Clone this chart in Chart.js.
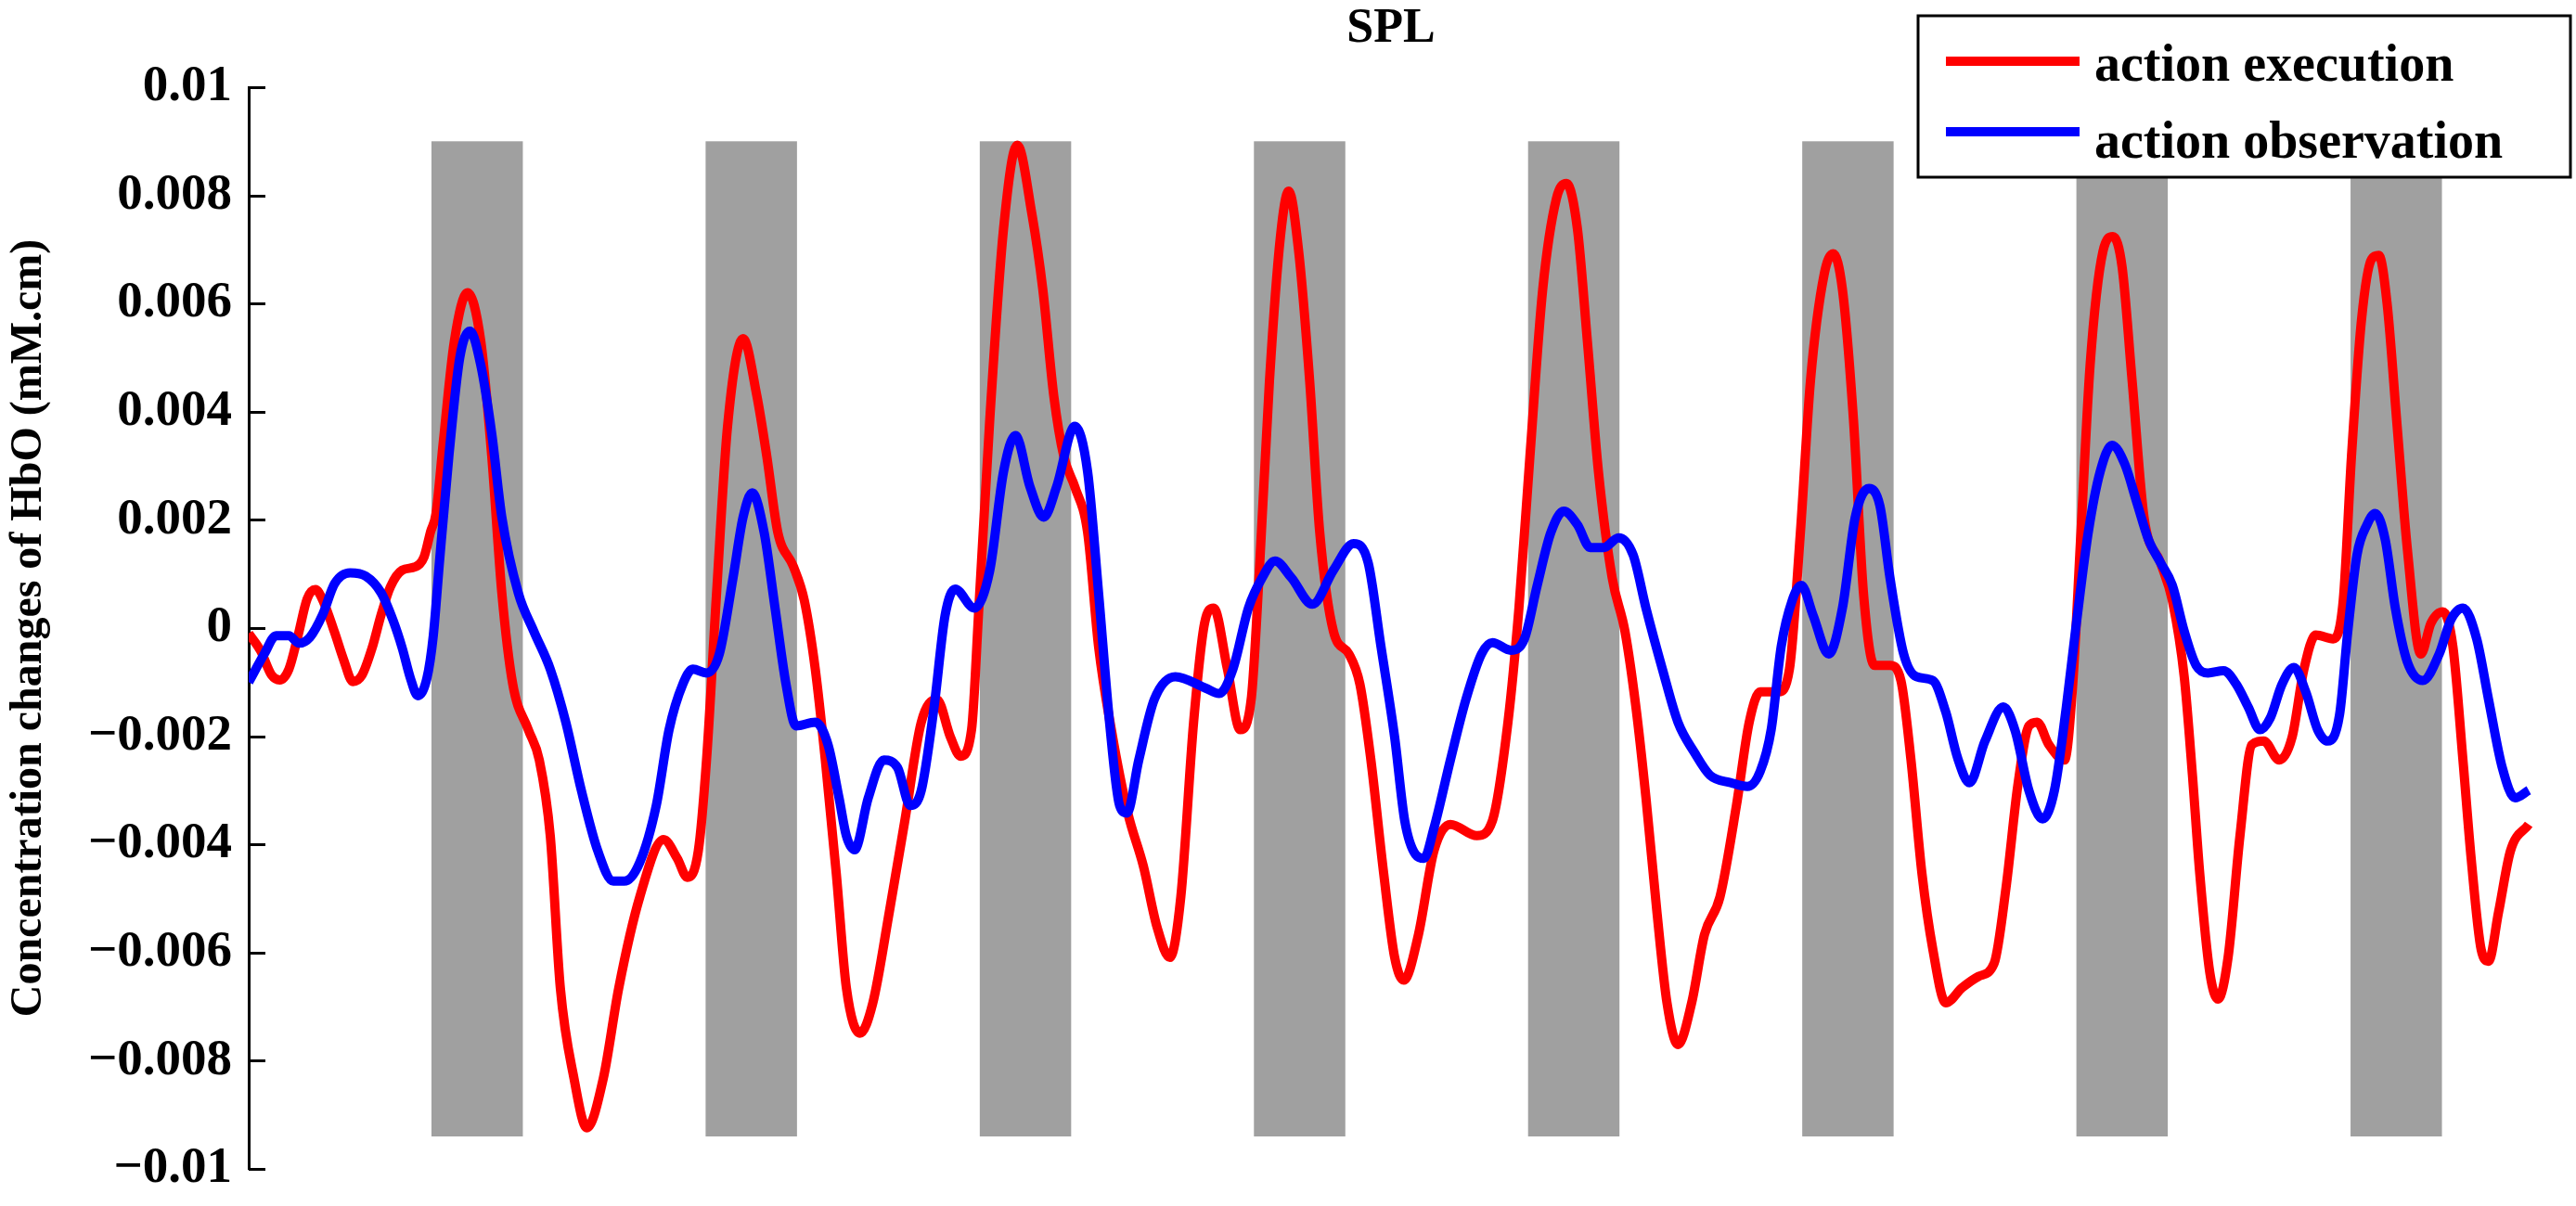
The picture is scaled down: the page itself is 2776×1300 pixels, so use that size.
<!DOCTYPE html>
<html>
<head>
<meta charset="utf-8">
<title>SPL</title>
<script src="https://cdn.jsdelivr.net/npm/chart.js@4.4.1/dist/chart.umd.min.js"></script>
<style>
  html, body { margin: 0; padding: 0; background: #fff; }
  canvas { display: block; }
</style>
</head>
<body>
<canvas id="chart" width="2776" height="1300"></canvas>
<script>
// time in seconds, values in 10^-3 mM.cm
const execTime = [0, 1.3, 2.5, 3.4, 4.4, 5.4, 6.4, 7.3, 8.2, 9.4, 10.4, 11.4, 12.4, 13.5, 14.5, 15.5, 16.8, 18.2, 19.2, 19.9, 20.5,
  21.3, 22.5, 23.95, 25.4, 26.6, 27.7, 28.9, 30.6, 31.8, 33.0, 34.1, 35.6, 37.0, 38.8, 40.5, 42.8, 45.4, 46.9, 48.0, 49.2,
  50.1, 51.2, 52.4, 54.1, 55.6, 56.7, 57.9, 59.6, 60.8, 62.0, 63.1, 64.3, 65.4, 66.9, 68.3, 70.1, 71.8, 73.6, 75.3, 76.8,
  77.9, 79.1, 79.9, 81.1, 82.6, 84.1, 85.7, 86.9, 88.1, 89.2, 90.4, 91.8, 93.0, 94.4, 96.2, 97.9, 99.4, 100.8, 102.0, 103.4,
  104.6, 105.6, 107.1, 108.5, 109.7, 110.6, 111.7, 112.9, 113.8, 114.9, 116.1, 117.2, 118.7, 120.4, 121.6, 122.8, 124.2,
  125.4, 126.4, 128.0, 129.7, 131.5, 134.4, 136.1, 137.8, 139.0, 140.2, 141.6, 143.1, 144.2, 145.4, 146.5, 147.7, 149.2,
  150.6, 151.8, 152.9, 154.1, 155.2, 156.4, 157.9, 159.3, 161.0, 162.8, 164.2, 165.4, 167.4, 168.6, 169.8, 170.9, 172.4,
  173.4, 174.4, 175.6, 176.7, 177.9, 179.6, 180.8, 181.9, 183.1, 184.3, 185.7, 187.5, 189.3, 191.0, 192.3, 193.6, 194.8,
  195.7, 197.0, 198.7, 199.6, 200.5, 201.5, 202.9, 204.0, 205.0, 206.1, 207.4, 209.2, 210.5, 211.8, 212.7, 213.5, 214.6,
  215.5, 216.6, 217.9, 219.2, 220.5, 222.2, 223.6, 224.9, 226.2, 228.1, 229.2, 230.1, 231.2, 232.3, 233.1, 234.0, 235.1,
  236.2, 237.7, 238.8, 240.1, 241.2, 242.3, 243.2, 244.3, 245.1, 246.2, 247.5, 249.5];
const execHbO = [-0.1, -0.42, -0.87, -0.96, -0.76, -0.14, 0.54, 0.71, 0.48, -0.08, -0.59, -0.99, -0.87, -0.37, 0.25, 0.76, 1.07, 1.13, 1.32, 1.78, 2.12,
  3.45, 5.3, 6.2, 5.3, 3.17, 0.65, -1.04, -1.88, -2.44, -3.84, -6.65, -8.33, -9.24, -8.33, -6.65, -4.97, -3.91, -4.26, -4.61, -4.12,
  -2.44, 0.65, 3.73, 5.35, 4.3, 3.17, 1.77, 1.14, 0.51, -0.76, -2.44, -4.54, -6.65, -7.49, -6.93, -5.25, -3.56, -1.74, -1.32, -2.02,
  -2.37, -1.88, 0.37, 3.87, 7.38, 8.93, 7.66, 6.26, 4.29, 3.17, 2.61, 1.77, -0.34, -1.88, -3.42, -4.40, -5.53, -6.09, -4.97, -1.74,
  0.09, 0.37, -0.76, -1.88, -1.32, 1.07, 4.57, 7.24, 8.08, 6.96, 4.57, 1.77, -0.06, -0.48, -1.04, -2.44, -4.54,
  -6.09, -6.51, -5.67, -4.12, -3.63, -3.84, -3.56, -1.74, 0.37, 3.17, 6.26, 7.94, 8.22, 7.38, 5.28, 2.89, 0.93,
  -0.06, -1.46, -3.14, -5.25, -6.93, -7.70, -6.93, -5.67, -4.97, -3.28, -1.74, -1.18, -1.18, -0.76, 1.77, 4.57, 6.54,
  6.92, 6.26, 3.87, 0.65, -0.69, -0.69, -0.97, -2.44, -4.54, -5.95, -6.93, -6.65, -6.44, -6.2, -4.8, -2.9, -1.81,
  -1.74, -2.16, -2.44, -1.04, 1.77, 4.86, 6.96, 7.24, 6.68, 4.57, 2.05, 1.21, 0.51, -0.90, -2.72, -4.54, -6.37,
  -6.86, -6.09, -3.84, -2.16, -2.09, -2.44, -2.02, -0.76, -0.13, -0.20, 0.51, 3.17, 5.70, 6.82, 6.89, 6.0, 3.73,
  1.49, -0.48, 0.09, 0.30, -0.34, -2.44, -4.26, -5.95, -6.16, -5.25, -4.12, -3.63];

const obsTime = [0, 1.7, 3.0, 4.4, 5.5, 6.7, 8.1, 9.4, 11.1, 12.8, 14.5, 15.8, 16.8, 17.7, 18.5, 19.5, 20.2, 20.9, 21.9, 23.1,
  24.2, 25.4, 26.6, 27.7, 29.5, 31.2, 33.0, 34.7, 36.4, 38.2, 39.9, 41.1, 42.8, 44.6, 46.0, 47.5, 48.6, 50.1, 51.5, 53.0,
  54.1, 55.1, 56.4, 57.6, 58.8, 59.9, 62.0, 63.4, 64.6, 65.4, 66.3, 67.8, 69.5, 71.0, 72.4, 73.6, 75.0, 76.2, 77.3, 79.4,
  81.1, 82.6, 83.9, 85.5, 87.0, 88.4, 90.4, 91.8, 93.0, 94.2, 95.3, 96.1, 97.4, 99.1, 101.4, 104.7, 106.2, 107.7, 109.4,
  110.9, 112.3, 114.1, 116.4, 118.7, 120.9, 122.5, 123.9, 125.4, 126.5, 127.7, 128.6, 129.7, 131.5, 133.2, 134.9, 136.1,
  138.1, 139.6, 141.0, 142.5, 143.9, 145.4, 146.8, 148.3, 149.9, 151.5, 152.9, 154.7, 156.4, 158.2, 159.9, 162.2, 164.0,
  165.4, 166.6, 167.7, 168.9, 169.9, 171.2, 172.9, 174.4, 175.8, 177.3, 178.5, 179.6, 181.1, 182.5, 184.3, 185.7, 187.0,
  188.3, 190.0, 192.0, 193.3, 194.8, 196.3, 197.6, 198.9, 200.0, 201.3, 202.6, 203.9, 205.3, 206.6, 207.9, 209.2, 210.5,
  211.8, 213.1, 214.4, 216.1, 217.5, 218.8, 220.1, 221.2, 222.5, 223.8, 225.1, 226.4, 227.5, 228.8, 229.7, 230.7, 231.8,
  232.7, 233.8, 234.9, 236.2, 237.9, 239.7, 241.0, 242.3, 243.8, 245.1, 246.6, 248.0, 249.5];
const obsHbO = [-1.0, -0.48, -0.14, -0.14, -0.28, -0.17, 0.25, 0.82, 1.02, 0.96, 0.65, 0.14, -0.37, -0.93, -1.25, -0.93, -0.14, 1.27, 3.17, 5.0,
  5.49, 4.86, 3.59, 2.05, 0.65, -0.06, -0.76, -1.74, -3.0, -4.12, -4.68, -4.68, -4.33, -3.28, -1.88, -1.04, -0.76, -0.83, -0.48, 0.93,
  2.05, 2.5, 1.77, 0.37, -1.04, -1.81, -1.74, -2.16, -3.14, -3.84, -4.10, -3.14, -2.44, -2.58, -3.28, -3.0, -1.46, 0.23, 0.72, 0.37,
  1.07, 2.89, 3.56, 2.61, 2.05, 2.61, 3.73, 2.89, 0.65, -1.74, -3.28, -3.42, -2.44, -1.32, -0.90, -1.11, -1.21, -0.76, 0.37,
  0.93, 1.24, 0.93, 0.44, 1.07, 1.56, 1.21, -0.34, -2.02, -3.56, -4.19, -4.26, -3.70, -2.44, -1.32, -0.48, -0.27,
  -0.41, -0.20, 0.79, 1.77, 2.16, 1.91, 1.49, 1.49, 1.67, 1.35, 0.37, -0.76, -1.74, -2.30, -2.72, -2.86, -2.93,
  -2.65, -1.88, -0.34, 0.51, 0.79, 0.23, -0.48, 0.37, 2.05, 2.58, 2.26, 0.93, -0.48, -0.90, -0.97, -1.55, -2.4,
  -2.86, -2.09, -1.46, -1.9, -3.0, -3.53, -3.0, -1.46, 0.09, 1.77, 2.89, 3.38, 3.03, 2.33, 1.63, 1.21, 0.79,
  -0.06, -0.69, -0.83, -0.79, -1.04, -1.46, -1.88, -1.67, -1.04, -0.73, -1.18, -1.88, -2.09, -1.60, -0.06, 1.35, 1.91,
  2.12, 1.63, 0.37, -0.62, -0.97, -0.48, 0.16, 0.37, -0.20, -1.32, -2.58, -3.14, -3.0];

// task blocks (grey bars): start times in s, 10 s each
const blockStarts = [20, 50, 80, 110, 140, 170, 200, 230];
const blockLength = 10;
const blockTop = 0.009;
const blockBottom = -0.0094;

const yTickValues = [-0.01, -0.008, -0.006, -0.004, -0.002, 0, 0.002, 0.004, 0.006, 0.008, 0.01];
const yTickLabels = ['\u22120.01', '\u22120.008', '\u22120.006', '\u22120.004', '\u22120.002', '0',
  '0.002', '0.004', '0.006', '0.008', '0.01'];

const seriesNames = ['action execution', 'action observation'];
const seriesColors = ['#ff0000', '#0000ff'];

const SERIF = '"Liberation Serif", "Times New Roman", serif';
const toPoints = (ts, vs) => ts.map((t, i) => ({ x: t, y: vs[i] / 1000 }));

// grey task blocks under the curves
const blocksPlugin = {
  id: 'blocks',
  beforeDatasetsDraw(chart) {
    const { ctx, scales: { x, y } } = chart;
    ctx.save();
    ctx.fillStyle = '#a0a0a0';
    blockStarts.forEach(s => {
      const x0 = x.getPixelForValue(s);
      const x1 = x.getPixelForValue(s + blockLength);
      const y0 = y.getPixelForValue(blockTop);
      const y1 = y.getPixelForValue(blockBottom);
      ctx.fillRect(x0, y0, x1 - x0, y1 - y0);
    });
    ctx.restore();
  }
};

// inward tick marks and the boxed legend, matlab style
const decorPlugin = {
  id: 'decor',
  afterDraw(chart) {
    const { ctx, scales: { y } } = chart;
    ctx.save();
    ctx.strokeStyle = '#000';
    ctx.lineWidth = 3;
    y.ticks.forEach(t => {
      const py = Math.round(y.getPixelForValue(t.value)) + 0.5;
      ctx.beginPath();
      ctx.moveTo(y.right, py);
      ctx.lineTo(y.right + 18, py);
      ctx.stroke();
    });

    // legend
    const bx = 2067, by = 17, bw = 703, bh = 174;
    ctx.fillStyle = '#fff';
    ctx.fillRect(bx, by, bw, bh);
    ctx.lineWidth = 3;
    ctx.strokeRect(bx, by, bw, bh);
    const rows = [66, 142];
    const baselines = [87, 170];
    ctx.font = 'bold 56px ' + SERIF;
    ctx.textBaseline = 'alphabetic';
    ctx.textAlign = 'left';
    seriesNames.forEach((name, i) => {
      ctx.strokeStyle = seriesColors[i];
      ctx.lineWidth = 10;
      ctx.beginPath();
      ctx.moveTo(2097, rows[i]);
      ctx.lineTo(2241, rows[i]);
      ctx.stroke();
      ctx.fillStyle = '#000';
      ctx.fillText(name, 2257, baselines[i]);
    });
    ctx.restore();
  }
};

new Chart(document.getElementById('chart'), {
  type: 'line',
  data: {
    datasets: [
      {
        label: seriesNames[0],
        data: toPoints(execTime, execHbO),
        borderColor: seriesColors[0],
        borderWidth: 10,
        pointRadius: 0,
        cubicInterpolationMode: 'monotone',
        order: 2
      },
      {
        label: seriesNames[1],
        data: toPoints(obsTime, obsHbO),
        borderColor: seriesColors[1],
        borderWidth: 10,
        pointRadius: 0,
        cubicInterpolationMode: 'monotone',
        order: 1
      }
    ]
  },
  options: {
    responsive: false,
    devicePixelRatio: 1,
    animation: false,
    layout: { padding: { left: 0, right: 46, top: 0, bottom: 24 } },
    plugins: {
      legend: { display: false },
      tooltip: { enabled: false },
      title: {
        display: true,
        text: 'SPL',
        fullSize: false,
        color: '#000',
        font: { family: SERIF, size: 52, weight: 'bold' },
        padding: { top: 0, bottom: 31.6 }
      }
    },
    scales: {
      x: {
        type: 'linear',
        min: 0,
        max: 250,
        display: false
      },
      y: {
        type: 'linear',
        min: -0.01,
        max: 0.01,
        afterBuildTicks: scale => {
          scale.ticks = yTickValues.map(v => ({ value: v }));
        },
        afterFit: scale => { scale.width = 268; },
        ticks: {
          color: '#000',
          padding: 18,
          font: { family: SERIF, size: 55, weight: 'bold', lineHeight: 0.8 },
          callback: (value, index) => yTickLabels[index]
        },
        grid: { display: false, drawTicks: false },
        border: { display: true, color: '#000', width: 3 },
        title: {
          display: true,
          text: 'Concentration changes of HbO (mM.cm)',
          color: '#000',
          font: { family: SERIF, size: 48, weight: 'bold' },
          padding: { top: 3, bottom: 0 }
        }
      }
    }
  },
  plugins: [blocksPlugin, decorPlugin]
});
</script>
</body>
</html>
